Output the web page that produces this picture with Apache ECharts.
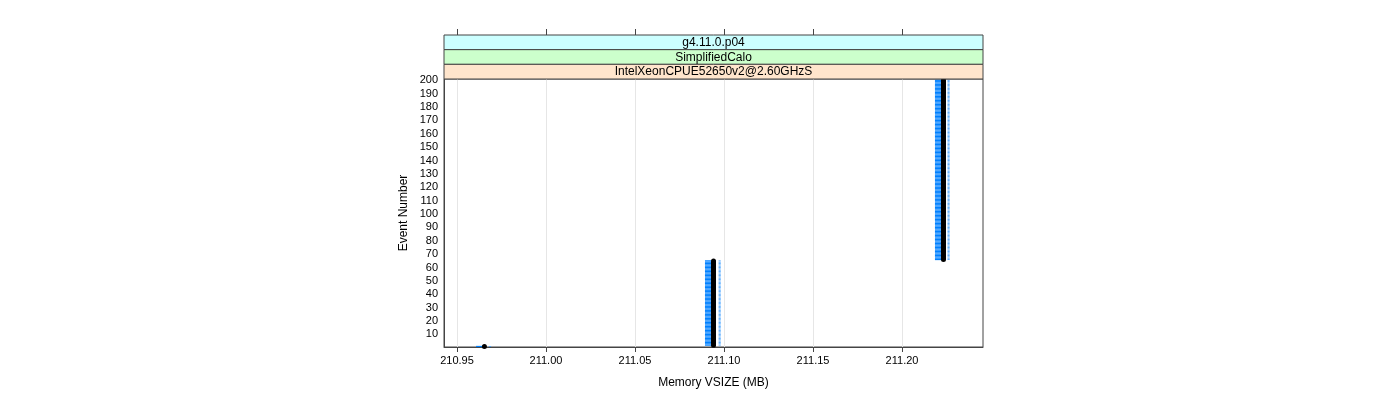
<!DOCTYPE html>
<html>
<head>
<meta charset="utf-8">
<script src="https://cdn.jsdelivr.net/npm/echarts@6/dist/echarts.min.js"></script>
<style>
html,body{margin:0;padding:0;background:#fff;}
#chart{width:1400px;height:400px;}
</style>
</head>
<body>
<div id="chart"></div>
<script>
// ---- data ----
const stripLabels = ['g4.11.0.p04', 'SimplifiedCalo', 'IntelXeonCPUE52650v2@2.60GHzS'];
const xTickValues = [210.95, 211.00, 211.05, 211.10, 211.15, 211.20];
const yTickValues = [10, 20, 30, 40, 50, 60, 70, 80, 90, 100, 110, 120, 130, 140, 150, 160, 170, 180, 190, 200];
// runs of consecutive events sharing the same memory values
const runStartEvent = [1, 2, 66];
const runEndEvent = [1, 65, 200];
const vsizeMB = [210.9654, 211.0941, 211.2233];
const blueLowMB = [210.9607, 211.0893, 211.2185];
const blueHighMB = [210.9652, 211.0927, 211.2219];
const lightBlueMB = [210.9685, 211.0975, 211.2261];

const X_MIN = 210.9427, X_MAX = 211.2455, Y_MIN = 0.6, Y_MAX = 201;

const points = [];
for (let k = 0; k < runStartEvent.length; k++) {
  for (let e = runStartEvent[k]; e <= runEndEvent[k]; e++) {
    points.push([vsizeMB[k], e, blueLowMB[k], blueHighMB[k], lightBlueMB[k]]);
  }
}

const FONT = 'Liberation Sans, Arial, sans-serif';
const AXIS_COL = '#444';
const L = 444, R = 983, T = 79, B = 347;
const stripColors = ['#ccffff', '#ccffcc', '#ffe5cc'];
const stripH = [14.67, 14.67, 14.66];

const graphics = [];
let sy = T - stripH.reduce((a, b) => a + b, 0);
stripLabels.forEach((s, i) => {
  graphics.push({type: 'rect', shape: {x: L, y: sy, width: R - L, height: stripH[i]},
    style: {fill: stripColors[i], stroke: AXIS_COL, lineWidth: 1}, z: 10});
  graphics.push({type: 'text', x: (L + R) / 2, y: sy + stripH[i] / 2 + 0.5,
    style: {text: s, fill: '#000', font: '12px ' + FONT, textAlign: 'center', textVerticalAlign: 'middle'}, z: 11});
  sy += stripH[i];
});
graphics.push({type: 'text', x: (L + R) / 2, y: 383,
  style: {text: 'Memory VSIZE (MB)', fill: '#000', font: '12px ' + FONT, textAlign: 'center', textVerticalAlign: 'middle'}});
graphics.push({type: 'text', x: 404, y: (T + B) / 2, rotation: Math.PI / 2,
  style: {text: 'Event Number', fill: '#000', font: '12px ' + FONT, textAlign: 'center', textVerticalAlign: 'middle'}});

function renderItem(params, api) {
  const y = api.value(1);
  const pB = api.coord([api.value(0), y]);
  const pL = api.coord([api.value(2), y]);
  const pH = api.coord([api.value(3), y]);
  const pT = api.coord([api.value(4), y]);
  return {type: 'group', children: [
    {type: 'rect', shape: {x: pL[0], y: pB[1] - 0.6, width: pH[0] - pL[0], height: 1.2}, style: {fill: '#0080ff'}},
    {type: 'rect', shape: {x: pT[0] - 1, y: pB[1] - 0.4, width: 2.2, height: 0.8}, style: {fill: '#3d9eff'}},
    {type: 'circle', shape: {cx: pB[0], cy: pB[1], r: 2.5}, style: {fill: '#000'}}
  ]};
}

const chart = echarts.init(document.getElementById('chart'), null, {renderer: 'canvas'});
chart.setOption({
  animation: false,
  backgroundColor: '#fff',
  grid: {left: L, right: 1400 - R, top: T, bottom: 400 - B, show: true, borderColor: AXIS_COL, borderWidth: 1, backgroundColor: 'transparent'},
  xAxis: [{
    type: 'value', min: X_MIN, max: X_MAX, position: 'bottom',
    axisLine: {show: true, onZero: false, lineStyle: {color: AXIS_COL}},
    axisTick: {show: true, inside: false, length: 5, customValues: xTickValues, lineStyle: {color: AXIS_COL}},
    axisLabel: {show: true, customValues: xTickValues, margin: 8, fontSize: 11, fontFamily: FONT, color: '#000',
      formatter: v => v.toFixed(2)},
    splitLine: {show: false}
  }, {
    type: 'value', min: X_MIN, max: X_MAX, position: 'top', offset: T - 35,
    axisLine: {show: false},
    axisTick: {show: true, inside: false, length: 6, customValues: xTickValues, lineStyle: {color: AXIS_COL}},
    axisLabel: {show: false},
    splitLine: {show: false}
  }],
  yAxis: {
    type: 'value', min: Y_MIN, max: Y_MAX,
    axisLine: {show: true, onZero: false, lineStyle: {color: AXIS_COL}},
    axisTick: {show: false},
    axisLabel: {show: true, customValues: yTickValues, margin: 6, fontSize: 11, fontFamily: FONT, color: '#000'},
    splitLine: {show: false}
  },
  series: [{
    type: 'line', data: [], xAxisIndex: 0, yAxisIndex: 0, silent: true,
    markLine: {silent: true, symbol: 'none', label: {show: false},
      lineStyle: {color: '#e6e6e6', width: 1, type: 'solid'},
      data: xTickValues.map(v => ({xAxis: v}))}
  }, {
    type: 'custom', renderItem: renderItem, data: points, xAxisIndex: 0, yAxisIndex: 0,
    encode: {x: [0, 2, 3, 4], y: 1}, clip: false, z: 5
  }],
  graphic: graphics
});
</script>
</body>
</html>
